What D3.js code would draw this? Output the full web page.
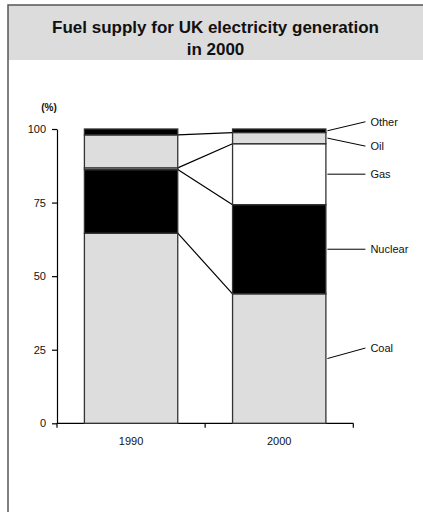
<!DOCTYPE html>
<html>
<head>
<meta charset="utf-8">
<script src="https://cdn.jsdelivr.net/npm/d3@7"></script>
<style>
  html, body { margin: 0; padding: 0; background: #fff; }
  svg { display: block; font-family: "Liberation Sans", Arial, sans-serif; }
</style>
</head>
<body>
<svg id="chart" width="423" height="512"></svg>
<script>
// Share of UK electricity generation by fuel (%)
const years = ["1990", "2000"];
const fuels = ["Coal", "Nuclear", "Gas", "Oil", "Other"];
const coal    = [64.6, 44.0];
const nuclear = [21.6, 30.3];
const gas     = [0.6, 20.7];
const oil     = [11.2, 3.8];
const other   = [2.0, 1.2];
const yTicks  = [0, 25, 50, 75, 100];

const fuelColor = { Coal: "#dddddd", Nuclear: "#000000", Gas: "#ffffff", Oil: "#dddddd", Other: "#000000" };
// vertical nudge (px) of each label relative to its segment's middle
const labelNudge = { Coal: -10.5, Nuclear: 0, Gas: 0, Oil: 8, Other: -9 };

const rows = years.map((y, i) => ({
  year: y, Coal: coal[i], Nuclear: nuclear[i], Gas: gas[i], Oil: oil[i], Other: other[i]
}));
const series = d3.stack().keys(fuels)(rows);

const svg = d3.select("#chart");
const W = 423, H = 512;

// chart area frame and title band
svg.append("rect").attr("x", 0).attr("y", 0).attr("width", W).attr("height", H).attr("fill", "#fff");
svg.append("rect").attr("x", 8).attr("y", 5).attr("width", W).attr("height", 55).attr("fill", "#dcdcdc");
svg.append("rect").attr("x", 8).attr("y", 5).attr("width", W + 10).attr("height", H + 10)
  .attr("fill", "none").attr("stroke", "#555").attr("stroke-width", 1.5);

svg.append("text").attr("x", 215.5).attr("y", 33).attr("text-anchor", "middle")
  .attr("font-size", 17).attr("font-weight", "bold").attr("fill", "#111")
  .text("Fuel supply for UK electricity generation");
svg.append("text").attr("x", 215.5).attr("y", 54.5).attr("text-anchor", "middle")
  .attr("font-size", 17).attr("font-weight", "bold").attr("fill", "#111")
  .text("in 2000");

const plot = { left: 57, right: 353.3, top: 129, bottom: 423.3 };
const x = d3.scaleBand().domain(years).range([plot.left, plot.right]).padding(0);
const y = d3.scaleLinear().domain([0, 100]).range([plot.bottom, plot.top]);
const barW = x.bandwidth() * 0.63;
const barX = yr => x(yr) + (x.bandwidth() - barW) / 2;

// y axis
const yAxis = svg.append("g").attr("transform", `translate(${plot.left},0)`)
  .call(d3.axisLeft(y).tickValues(yTicks).tickSize(5).tickSizeOuter(0).tickPadding(6));
yAxis.select(".domain").attr("stroke", "#000").attr("stroke-width", 1.2);
yAxis.selectAll(".tick line").attr("stroke", "#000").attr("stroke-width", 1.2);
yAxis.selectAll(".tick text").attr("font-size", 11).attr("fill", "#111")
  .attr("font-family", "'Liberation Sans', Arial, sans-serif");

svg.append("text").attr("x", 49).attr("y", 111).attr("text-anchor", "middle")
  .attr("font-size", 10).attr("font-weight", "bold").attr("fill", "#111").text("(%)");

// x axis: baseline, ticks at category boundaries, labels at category centres
svg.append("line").attr("x1", plot.left).attr("x2", plot.right)
  .attr("y1", y(0)).attr("y2", y(0)).attr("stroke", "#000").attr("stroke-width", 1.2);
const bounds = years.map(yr => x(yr)).concat([x(years[years.length - 1]) + x.bandwidth()]);
svg.selectAll(".xtick").data(bounds).join("line")
  .attr("x1", d => d).attr("x2", d => d)
  .attr("y1", y(0)).attr("y2", y(0) + 4.5).attr("stroke", "#000").attr("stroke-width", 1.2);
svg.selectAll(".xlab").data(years).join("text")
  .attr("x", d => x(d) + x.bandwidth() / 2).attr("y", y(0) + 22)
  .attr("text-anchor", "middle").attr("font-size", 11).attr("fill", "#111").text(d => d);

// series lines joining the top of each fuel between the two bars
const connectors = series.slice(0, series.length - 1);
svg.selectAll(".conn").data(connectors).join("line")
  .attr("x1", barX(years[0]) + barW).attr("y1", d => y(d[0][1]))
  .attr("x2", barX(years[1])).attr("y2", d => y(d[1][1]))
  .attr("stroke", "#000").attr("stroke-width", 1.2);

// stacked bars
svg.selectAll(".layer").data(series).join("g")
  .attr("fill", d => fuelColor[d.key])
  .selectAll("rect").data(d => d).join("rect")
  .attr("x", d => barX(d.data.year)).attr("width", barW)
  .attr("y", d => y(d[1])).attr("height", d => y(d[0]) - y(d[1]))
  .attr("stroke", "#333").attr("stroke-width", 1.3);

// labels for the 2000 bar
const last = years.length - 1;
const lx1 = barX(years[last]) + barW + 1.5, lx2 = lx1 + 38;
series.forEach(s => {
  const mid = y((s[last][0] + s[last][1]) / 2);
  const ly = mid + labelNudge[s.key];
  svg.append("line").attr("x1", lx1).attr("y1", mid).attr("x2", lx2).attr("y2", ly)
    .attr("stroke", "#000").attr("stroke-width", 1);
  svg.append("text").attr("x", lx2 + 5).attr("y", ly).attr("dy", "0.35em")
    .attr("font-size", 11).attr("fill", "#111").text(s.key);
});
</script>
</body>
</html>
